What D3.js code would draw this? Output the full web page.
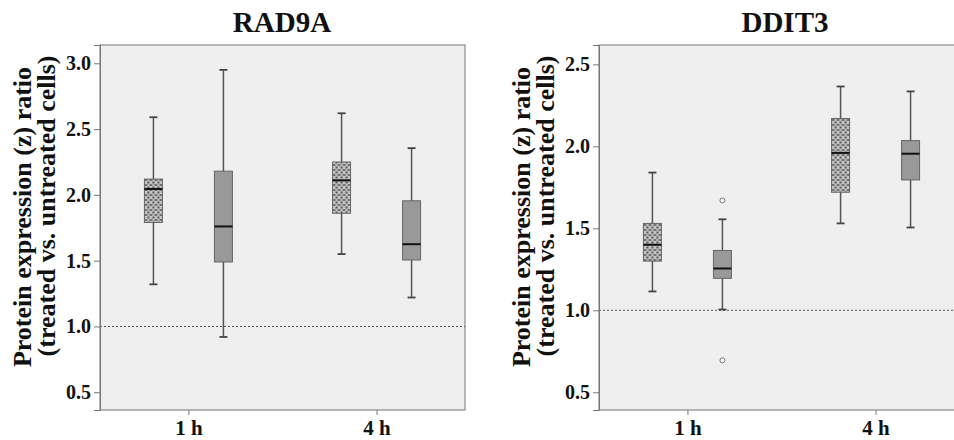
<!DOCTYPE html>
<html>
<head>
<meta charset="utf-8">
<script src="https://cdn.jsdelivr.net/npm/d3@7"></script>
<style>
  body { margin: 0; background: #fff; }
</style>
</head>
<body>
<div id="chart"></div>
<script>
// data: [min, q1, median, q3, max] per time point
var timepoints = ["1 h", "4 h"];
var series = ["pattern", "grey"];

var rad9aPattern = [[1.32, 1.79, 2.045, 2.12, 2.59], [1.55, 1.86, 2.11, 2.25, 2.62]];
var rad9aGrey = [[0.92, 1.49, 1.76, 2.18, 2.95], [1.22, 1.505, 1.625, 1.955, 2.355]];
var rad9aOutliers = [];

var ddit3Pattern = [[1.115, 1.30, 1.40, 1.53, 1.84], [1.53, 1.72, 1.96, 2.17, 2.365]];
var ddit3Grey = [[1.005, 1.195, 1.255, 1.365, 1.555], [1.505, 1.795, 1.955, 2.035, 2.335]];
// outliers: [time index, series index, value]
var ddit3Outliers = [[0, 1, 1.67], [0, 1, 0.695]];

var rad9aTicks = [0.5, 1.0, 1.5, 2.0, 2.5, 3.0];
var ddit3Ticks = [0.5, 1.0, 1.5, 2.0, 2.5];

var FONT = "Liberation Serif";

var svg = d3.select("#chart").append("svg")
  .attr("width", 954)
  .attr("height", 440);

// pattern for the dotted boxes
var defs = svg.append("defs");
var pat = defs.append("pattern")
  .attr("id", "dots")
  .attr("patternUnits", "userSpaceOnUse")
  .attr("width", 5)
  .attr("height", 5);
pat.append("rect").attr("width", 5).attr("height", 5).attr("fill", "#fdfdfd");
pat.append("path")
  .attr("d", "M0,0L5,5M5,0L0,5")
  .attr("stroke", "#b0b0b0")
  .attr("stroke-width", 0.9);
[[0, 2.5], [5, 2.5], [2.5, 0], [2.5, 5]].forEach(function(p) {
  pat.append("circle").attr("cx", p[0]).attr("cy", p[1]).attr("r", 1.3).attr("fill", "#555");
});

function drawPanel(opts) {
  var g = svg.append("g");
  var left = opts.left, top = 45, bottom = 410, right = opts.left + 365;

  var y = d3.scaleLinear().domain(opts.domain).range([bottom, top]);
  var x = d3.scalePoint().domain(timepoints).range([left, right]).padding(0.47);
  var sub = d3.scaleBand().domain(series).range([-70, 70]);
  var bw = 18;

  // plot background
  g.append("rect")
    .attr("x", left).attr("y", top)
    .attr("width", right - left).attr("height", bottom - top)
    .attr("fill", "#efefef")
    .attr("stroke", "#8a8a8a")
    .attr("stroke-width", 1.2);

  // reference line at 1.0
  g.append("line")
    .attr("x1", left).attr("x2", right)
    .attr("y1", y(1)).attr("y2", y(1))
    .attr("stroke", "#555")
    .attr("stroke-width", 1)
    .attr("stroke-dasharray", "2,2");

  // axes
  var yAxis = g.append("g")
    .attr("transform", "translate(" + left + ",0)")
    .call(d3.axisLeft(y).tickValues(opts.ticks).tickFormat(d3.format(".1f")).tickSize(6).tickPadding(3));
  yAxis.select(".domain").attr("stroke", "#777");
  yAxis.selectAll(".tick line").attr("stroke", "#777");
  yAxis.selectAll(".tick text")
    .attr("font-family", FONT)
    .attr("font-weight", "bold")
    .attr("font-size", 20)
    .attr("fill", "#111");

  var xAxis = g.append("g")
    .attr("transform", "translate(0," + bottom + ")")
    .call(d3.axisBottom(x).tickSize(5).tickPadding(5));
  xAxis.select(".domain").remove();
  xAxis.selectAll(".tick line").attr("stroke", "#777");
  xAxis.selectAll(".tick text")
    .attr("font-family", FONT)
    .attr("font-weight", "bold")
    .attr("font-size", 21)
    .attr("fill", "#111");

  // boxes
  var rows = [];
  timepoints.forEach(function(t, i) {
    rows.push({ t: t, s: series[0], v: opts.pattern[i] });
    rows.push({ t: t, s: series[1], v: opts.grey[i] });
  });

  var box = g.selectAll(".box").data(rows).enter().append("g")
    .attr("class", "box")
    .attr("transform", function(d) { return "translate(" + (x(d.t) + sub(d.s) + sub.bandwidth() / 2) + ",0)"; });

  box.append("line")
    .attr("x1", 0).attr("x2", 0)
    .attr("y1", function(d) { return y(d.v[0]); })
    .attr("y2", function(d) { return y(d.v[4]); })
    .attr("stroke", "#555").attr("stroke-width", 1.5);
  box.append("line")
    .attr("x1", -4).attr("x2", 4)
    .attr("y1", function(d) { return y(d.v[0]); })
    .attr("y2", function(d) { return y(d.v[0]); })
    .attr("stroke", "#444").attr("stroke-width", 1.8);
  box.append("line")
    .attr("x1", -4).attr("x2", 4)
    .attr("y1", function(d) { return y(d.v[4]); })
    .attr("y2", function(d) { return y(d.v[4]); })
    .attr("stroke", "#444").attr("stroke-width", 1.8);
  box.append("rect")
    .attr("x", -bw / 2).attr("width", bw)
    .attr("y", function(d) { return y(d.v[3]); })
    .attr("height", function(d) { return y(d.v[1]) - y(d.v[3]); })
    .attr("fill", function(d) { return d.s === "pattern" ? "url(#dots)" : "#999"; })
    .attr("stroke", "#666").attr("stroke-width", 1);
  box.append("line")
    .attr("x1", -bw / 2).attr("x2", bw / 2)
    .attr("y1", function(d) { return y(d.v[2]); })
    .attr("y2", function(d) { return y(d.v[2]); })
    .attr("stroke", "#111").attr("stroke-width", 2);

  g.selectAll(".outlier").data(opts.outliers).enter().append("circle")
    .attr("class", "outlier")
    .attr("cx", function(d) { return x(timepoints[d[0]]) + sub(series[d[1]]) + sub.bandwidth() / 2; })
    .attr("cy", function(d) { return y(d[2]); })
    .attr("r", 2.5)
    .attr("fill", "#f5f5f5")
    .attr("stroke", "#777")
    .attr("stroke-width", 1);

  // title
  g.append("text")
    .attr("x", opts.titleX)
    .attr("y", 32)
    .attr("text-anchor", "middle")
    .attr("font-family", FONT)
    .attr("font-weight", "bold")
    .attr("font-size", 29)
    .attr("fill", "#111")
    .text(opts.title);

  // y label
  g.append("text")
    .attr("transform", "translate(" + (left - 69) + ",217) rotate(-90)")
    .attr("text-anchor", "middle")
    .attr("font-family", FONT)
    .attr("font-weight", "bold")
    .attr("font-size", 26)
    .attr("fill", "#111")
    .text("Protein expression (z) ratio");
  g.append("text")
    .attr("transform", "translate(" + (left - 45) + ",206) rotate(-90)")
    .attr("text-anchor", "middle")
    .attr("font-family", FONT)
    .attr("font-weight", "bold")
    .attr("font-size", 26)
    .attr("fill", "#111")
    .text("(treated vs. untreated cells)");
}

drawPanel({
  left: 100, domain: [0.365, 3.139], ticks: rad9aTicks,
  pattern: rad9aPattern, grey: rad9aGrey, outliers: rad9aOutliers,
  title: "RAD9A", titleX: 282
});
drawPanel({
  left: 599, domain: [0.392, 2.618], ticks: ddit3Ticks,
  pattern: ddit3Pattern, grey: ddit3Grey, outliers: ddit3Outliers,
  title: "DDIT3", titleX: 785
});
</script>
</body>
</html>
